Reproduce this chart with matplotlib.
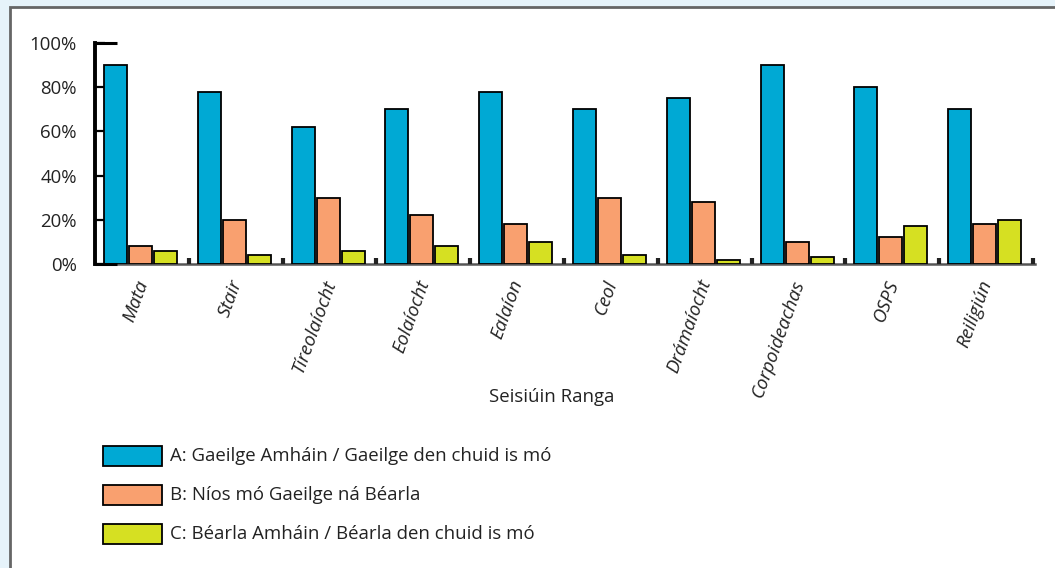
import matplotlib
matplotlib.use("Agg")
import matplotlib.pyplot as plt
from matplotlib.patches import Rectangle
import numpy as np

categories = ["Mata", "Stair", "Tíreolaíocht", "Eolaíocht", "Ealaíon", "Ceol",
              "Drámaíocht", "Corpoideachas", "OSPS", "Reiligiún"]
series_a = [90, 78, 62, 70, 78, 70, 75, 90, 80, 70]
series_b = [8, 20, 30, 22, 18, 30, 28, 10, 12, 18]
series_c = [6, 4, 6, 8, 10, 4, 2, 3, 17, 20]
series_names = ["A: Gaeilge Amháin / Gaeilge den chuid is mó",
                "B: Níos mó Gaeilge ná Béarla",
                "C: Béarla Amháin / Béarla den chuid is mó"]
colors = ["#00a9d4", "#f9a06f", "#d6e022"]
yticks = [0, 20, 40, 60, 80, 100]
ytick_labels = ["0%", "20%", "40%", "60%", "80%", "100%"]
xlabel = "Seisiúin Ranga"

plt.rcParams['font.family'] = ['Open Sans', 'DejaVu Sans']

W, H = 1055, 568
fig = plt.figure(figsize=(W / 100, H / 100), dpi=100)
fig.patch.set_facecolor("#e6f3fa")

# white panel
panel = Rectangle((10 / W, -0.2), 1.0, 1.2 - 7 / H, transform=fig.transFigure,
                  facecolor="white", edgecolor="#666666", linewidth=2, zorder=0)
fig.add_artist(panel)

ax_l, ax_r = 95 / W, 1033 / W
ax_b, ax_t = 1 - 264 / H, 1 - 43 / H
ax = fig.add_axes([ax_l, ax_b, ax_r - ax_l, ax_t - ax_b])
ax.set_facecolor("none")
ax.set_xlim(0, len(categories))
ax.set_ylim(0, 100)

x = np.arange(len(categories))
width = 0.245
offsets = [0.218, 0.485, 0.752]
for vals, off, col in zip([series_a, series_b, series_c], offsets, colors):
    ax.bar(x + off, vals, width=width, color=col, edgecolor="black",
           linewidth=1.3, zorder=3)

for s in ["top", "right", "bottom"]:
    ax.spines[s].set_visible(False)
ax.spines["left"].set_linewidth(2.8)
ax.spines["left"].set_color("black")

# x axis line
ax.plot([0, len(categories) + 0.02], [0, 0], color="#555555", lw=1.8,
        clip_on=False, zorder=2)
# short black segments top and bottom at left
ax.plot([0, 0.235], [100, 100], color="black", lw=2.2, clip_on=False,
        solid_capstyle="butt")
ax.plot([0, 0.235], [0, 0], color="black", lw=2.2, clip_on=False,
        solid_capstyle="butt", zorder=4)
# group separator marks
ax.vlines(x + 1.0, 0, 2.8, color="#222222", lw=3, zorder=4, clip_on=False)

ax.set_yticks(yticks)
ax.set_yticklabels(ytick_labels, fontsize=13.4, color="#222222")
ax.tick_params(axis="y", direction="in", length=7, width=1.6, pad=13,
               color="black")
ax.set_xticks([])

for i, c in enumerate(categories):
    ax.text(i + 0.42, -6, c, rotation=70, ha="right", va="top",
            rotation_mode="anchor", fontsize=13.5, style="italic",
            color="#222222")

fig.text(552 / W, 1 - 397 / H, xlabel, ha="center", va="center",
         fontsize=13.4, color="#222222")

# legend
for k, (name, col) in enumerate(zip(series_names, colors)):
    yc = 456 + 39 * k
    fig.add_artist(Rectangle((103 / W, 1 - (yc + 10) / H), 59 / W, 20 / H,
                             transform=fig.transFigure, facecolor=col,
                             edgecolor="black", linewidth=1.3))
    fig.text(170 / W, 1 - yc / H, name, ha="left", va="center",
             fontsize=13.4, color="#222222")

fig.savefig("out.png", dpi=100, facecolor=fig.get_facecolor())
